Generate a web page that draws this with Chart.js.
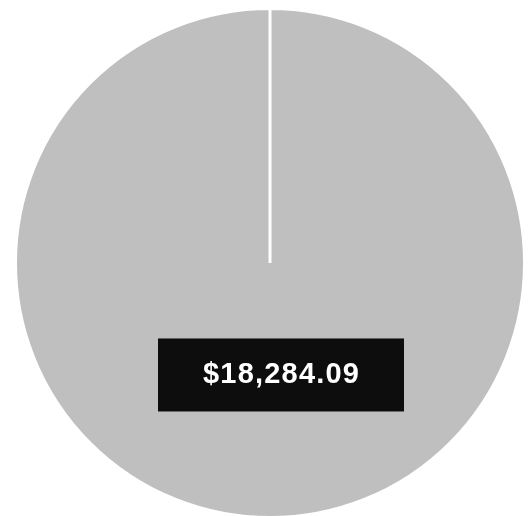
<!DOCTYPE html>
<html>
<head>
<meta charset="utf-8">
<script src="https://cdn.jsdelivr.net/npm/chart.js@4"></script>
<style>
  html, body { margin: 0; padding: 0; background: #ffffff; overflow: hidden; }
  #wrap { width: 532px; height: 519px; }
</style>
</head>
<body>
<div id="wrap"><canvas id="pie-chart"></canvas></div>
<script>
const categories = ["Total"];
const values = [18284.09];
const sliceColors = ["#bfbfbf"];

const money = (v) =>
  "$" + v.toLocaleString("en-US", { minimumFractionDigits: 2, maximumFractionDigits: 2 });

// black value box drawn on top of the slice
const valueBox = {
  id: "valueBox",
  afterDatasetsDraw(chart) {
    const ctx = chart.ctx;
    const meta = chart.getDatasetMeta(0);
    meta.data.forEach((arc, i) => {
      const r = arc.outerRadius;
      const mid = (arc.startAngle + arc.endAngle) / 2;
      const cx = arc.x + Math.cos(mid) * r * 0.44 + 11;
      const cy = arc.y + Math.sin(mid) * r * 0.44;
      const text = money(values[i]);
      ctx.save();
      ctx.font = "bold 29px 'Liberation Sans', Arial, sans-serif";
      ctx.letterSpacing = "1.2px";
      const w = 246;
      const h = 73;
      ctx.fillStyle = "#0d0d0d";
      ctx.fillRect(cx - w / 2, cy - h / 2, w, h);
      ctx.fillStyle = "#ffffff";
      ctx.textAlign = "center";
      ctx.textBaseline = "middle";
      ctx.fillText(text, cx + 0.6, cy);
      ctx.restore();
    });
  },
};

new Chart(document.getElementById("pie-chart"), {
  type: "pie",
  data: {
    labels: categories,
    datasets: [
      {
        data: values,
        backgroundColor: sliceColors,
        borderColor: "#ffffff",
        borderWidth: 3,
      },
    ],
  },
  options: {
    responsive: true,
    maintainAspectRatio: false,
    animation: false,
    layout: { padding: { top: 7, left: 8 } },
    plugins: {
      legend: { display: false },
      tooltip: { enabled: false },
    },
  },
  plugins: [valueBox],
});
</script>
</body>
</html>
